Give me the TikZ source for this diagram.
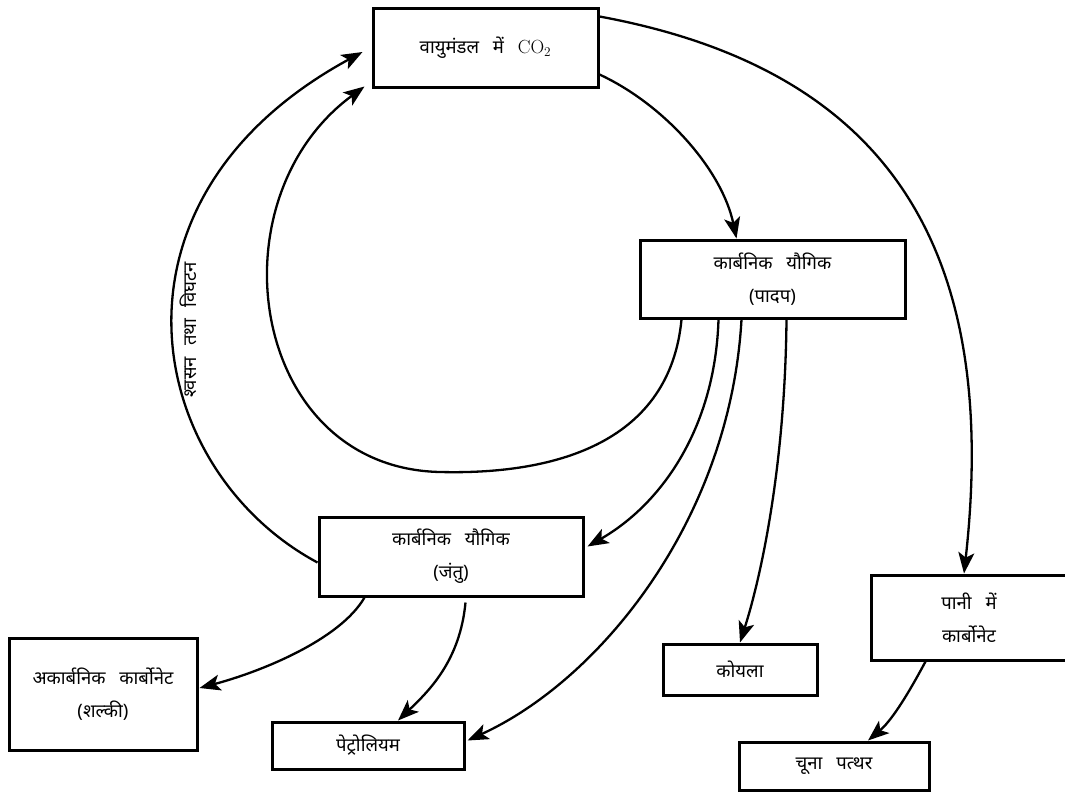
\documentclass[tikz,border=0pt]{standalone}
\usepackage{fontspec}
\newfontfamily\dev[Script=Devanagari]{Noto Sans}
\usetikzlibrary{arrows.meta}
\newcommand\boxfont{\dev\fontsize{18.5}{33}\selectfont\spaceskip=0.75em\relax}
\newcommand\lblfont{\dev\fontsize{18.5}{20}\selectfont\spaceskip=0.6em\relax}
\newcommand\cofont{\rmfamily\fontsize{19}{20}\selectfont}
\begin{document}
\begin{tikzpicture}[x=1pt,y=-1pt,
  box/.style={draw, line width=3pt, inner sep=0pt, align=center, font=\boxfont},
  conn/.style={line width=2.3pt, -{Stealth[length=21pt,width=16pt,inset=5pt]}},
  lbl/.style={font=\lblfont, inner sep=0pt}
]
\useasboundingbox (0,0) rectangle (1065,792);
\fill[white] (0,0) rectangle (1065,792);

\node[box, minimum width=225pt, minimum height=78pt] (co2) at (485.5,48) {वायुमंडल में {\cofont CO\textsubscript{2}}};
\node[box, minimum width=265pt, minimum height=78pt] (padap) at (772.5,279) {कार्बनिक यौगिक\\(पादप)};
\node[box, minimum width=264pt, minimum height=79pt] (jantu) at (451,556.5) {कार्बनिक यौगिक\\(जंतु)};
\node[box, minimum width=188pt, minimum height=112pt] (akar) at (103,694) {अकार्बनिक कार्बोनेट\\(शल्की)};
\node[box, minimum width=192pt, minimum height=47pt] (petro) at (368,745.5) {पेट्रोलियम};
\node[box, minimum width=154pt, minimum height=51pt] (koyla) at (740,669.5) {कोयला};
\node[box, minimum width=196pt, minimum height=85pt] (pani) at (969,617.5) {पानी में\\कार्बोनेट};
\node[box, minimum width=190pt, minimum height=48pt] (chuna) at (834,766) {चूना पत्थर};

\node[lbl, rotate=90] (resp) at (188,330) {श्वसन तथा विघटन};

% CO2 -> water carbonate
\draw[conn] ([yshift=-9pt]co2.north east) .. controls (890,70) and (1000,250) .. ([xshift=-5pt]pani.north);
% CO2 -> plants
\draw[conn] ([yshift=14pt]co2.south east) .. controls (665,105) and (722,170) .. ([xshift=98pt]padap.north west);
% plants -> CO2 (inner loop)
\coordinate (loopb) at (440,472);
\draw[conn] ([xshift=43pt]padap.south west) .. controls (670,440) and (560,475) .. (loopb)
  .. controls (250,468) and (210,200) .. ([xshift=-7pt,yshift=2pt]co2.south west);
% animals -> CO2 (outer arc)
\draw[conn] ([yshift=-6pt]jantu.west) .. controls (145,470) and (90,200) .. ([xshift=-9pt,yshift=-4pt]co2.west);
% plants -> animals
\draw[conn] ([xshift=80pt]padap.south west) .. controls (715,430) and (660,505) .. ([xshift=3pt,yshift=10pt]jantu.east);
% plants -> petroleum
\draw[conn] ([xshift=103pt]padap.south west) .. controls (730,520) and (600,680) .. ([xshift=2pt,yshift=5pt]petro.east);
% plants -> coal
\draw[conn] ([xshift=148pt]padap.south west) .. controls (785,470) and (760,580) .. (koyla.north);
% animals -> inorganic carbonate
\draw[conn] ([xshift=47pt]jantu.south west) .. controls (340,640) and (260,672) .. ([xshift=1pt,yshift=6pt]akar.east);
% animals -> petroleum
\draw[conn] ([xshift=148pt,yshift=-5pt]jantu.south west) .. controls (460,660) and (430,690) .. ([xshift=30pt]petro.north);
% water carbonate -> limestone
\draw[conn] ([xshift=56pt]pani.south west) .. controls (905,700) and (890,722) .. ([xshift=34pt]chuna.north);
\end{tikzpicture}
\end{document}
